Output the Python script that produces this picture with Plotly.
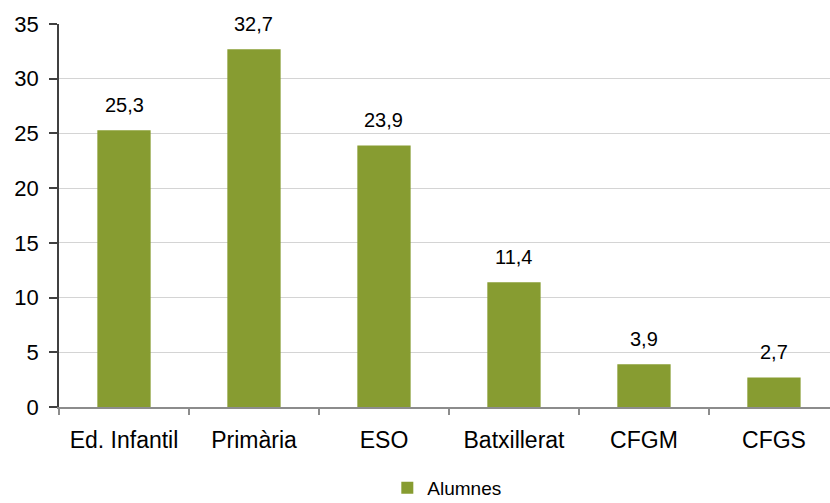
import plotly.graph_objects as go

categories = ["Ed. Infantil", "Primària", "ESO", "Batxillerat", "CFGM", "CFGS"]
values = [25.3, 32.7, 23.9, 11.4, 3.9, 2.7]
labels = ["25,3", "32,7", "23,9", "11,4", "3,9", "2,7"]
series_name = "Alumnes"
y_ticks = [0, 5, 10, 15, 20, 25, 30, 35]

BAR = "#879c31"
FONT = "Liberation Sans, Arial, sans-serif"

fig = go.Figure()
fig.add_trace(go.Bar(
    x=categories, y=values, name=series_name,
    marker=dict(color=BAR, line=dict(width=0)),
    width=0.41,
))

for c, v, t in zip(categories, values, labels):
    fig.add_annotation(x=c, y=v, text=t, showarrow=False, yanchor="bottom",
                       yshift=12, font=dict(family=FONT, size=20, color="#000"))

fig.update_layout(
    width=830, height=503,
    margin=dict(l=59, r=0, t=24, b=96, autoexpand=False),
    paper_bgcolor="white", plot_bgcolor="white",
    font=dict(family=FONT, color="#000"),
    showlegend=True,
    legend=dict(orientation="h", x=0.503, xanchor="center",
                yref="container", y=0.03, yanchor="middle",
                font=dict(family=FONT, size=19), itemwidth=30),
    xaxis=dict(
        type="category", range=[-0.5, 5.431], automargin=False,
        showline=True, linecolor="#8c8c8c", linewidth=1.5,
        ticks="outside", tickson="boundaries", ticklen=6, tickcolor="#8c8c8c", tickwidth=1.5,
        tickfont=dict(family=FONT, size=23), ticklabelstandoff=12,
        showgrid=False,
    ),
    yaxis=dict(
        range=[0, 35], tickvals=y_ticks, automargin=False,
        showline=True, linecolor="#404040", linewidth=1.5,
        ticks="outside", ticklen=8, tickcolor="#404040", tickwidth=1.5,
        tickfont=dict(family=FONT, size=22), ticklabelstandoff=6,
        showgrid=True, gridcolor="#d4d4d4", gridwidth=1,
        zeroline=False,
    ),
    bargap=0.59,
)

fig.write_html("out.html", config={"displayModeBar": False},
               post_script="document.body.style.margin='0px';document.body.style.overflow='hidden';")
